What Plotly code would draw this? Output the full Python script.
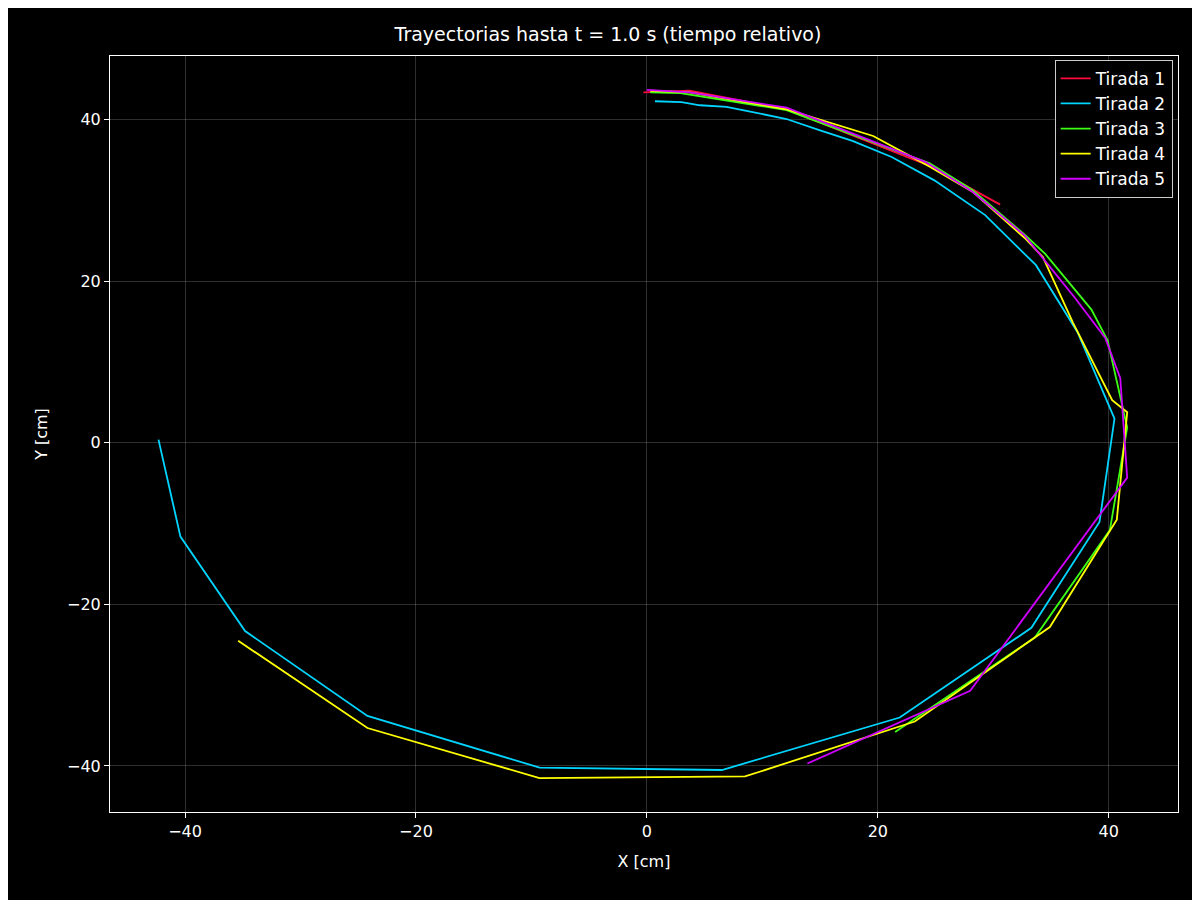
import plotly.graph_objects as go

# Tirada 1
x1 = [-0.3, 3.7, 12.1, 24.5, 30.6]
y1 = [43.4, 43.6, 41.3, 34.3, 29.5]
# Tirada 2
x2 = [0.7, 2.0, 3.0, 4.6, 6.9, 8.3, 12.1, 15.0, 17.8, 21.2, 24.9, 29.3, 33.7, 37.3, 40.5,
      39.2, 33.3, 21.9, 6.5, -9.3, -24.2, -34.8, -40.4, -42.3]
y2 = [42.3, 42.2, 42.2, 41.8, 41.6, 41.2, 40.1, 38.7, 37.4, 35.4, 32.5, 28.2, 22.0, 13.7, 3.0,
      -9.8, -22.9, -34.0, -40.5, -40.2, -33.8, -23.3, -11.6, 0.4]
# Tirada 3
x3 = [0.3, 2.9, 12.1, 24.5, 28.2, 32.7, 34.5, 38.5, 39.9, 41.6, 40.1, 33.6, 21.5]
y3 = [43.4, 43.3, 41.2, 34.6, 31.3, 25.8, 23.4, 16.5, 12.7, 1.9, -10.8, -24.1, -35.8]
# Tirada 4
x4 = [0.3, 3.7, 12.1, 19.6, 24.5, 28.2, 32.7, 34.3, 36.9, 40.3, 41.6, 40.7, 34.9, 23.2, 8.5,
      -9.3, -24.2, -35.4]
y4 = [43.6, 43.4, 41.3, 38.0, 34.2, 31.1, 25.4, 23.0, 14.9, 5.3, 3.8, -9.5, -22.8, -34.5, -41.3,
      -41.5, -35.3, -24.5]
# Tirada 5
x5 = [0.0, 3.7, 12.1, 24.1, 28.2, 32.7, 37.1, 39.7, 41.0, 41.6, 28.0, 13.9]
y5 = [43.7, 43.4, 41.5, 34.8, 31.1, 25.7, 17.9, 13.0, 8.0, -4.3, -30.7, -39.7]

series = [("Tirada 1", x1, y1, "#ff0a3c"), ("Tirada 2", x2, y2, "#00d5ff"),
          ("Tirada 3", x3, y3, "#3cff14"), ("Tirada 4", x4, y4, "#ffff00"),
          ("Tirada 5", x5, y5, "#d000ff")]

fig = go.Figure()
for name, xs, ys, c in series:
    fig.add_trace(go.Scatter(x=xs, y=ys, mode="lines", name=name, line=dict(color=c, width=1.8)))

ax = dict(showline=True, linecolor="white", mirror=True, ticks="outside", tickcolor="white",
          gridcolor="rgba(255,255,255,0.18)", zeroline=False, tickfont=dict(size=16),
          title_font=dict(size=16))
fig.update_layout(
    width=1200, height=900, paper_bgcolor="black", plot_bgcolor="black",
    font=dict(family="DejaVu Sans", color="white"),
    title=dict(text="Trayectorias hasta t = 1.0 s (tiempo relativo)", x=0.5, y=0.978,
               font=dict(size=19)),
    margin=dict(l=102, r=30, t=48, b=96),
    legend=dict(x=0.995, y=0.995, xanchor="right", yanchor="top", bgcolor="black",
                bordercolor="#cccccc", borderwidth=1, font=dict(size=17)),
    showlegend=True,
)
fig.update_xaxes(ax, title_text="X [cm]", range=[-46.5, 46.0], dtick=20)
fig.update_yaxes(ax, title_text="Y [cm]", range=[-45.7, 47.9], dtick=20)
fig.write_html("out.html")
